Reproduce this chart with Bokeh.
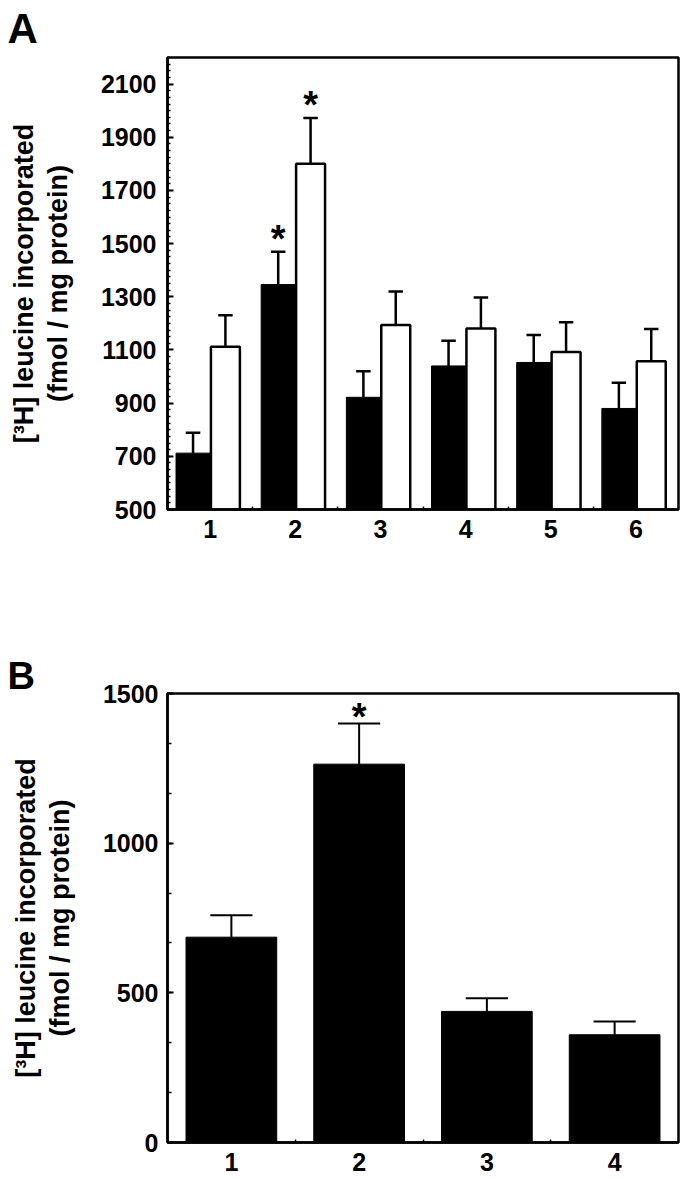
from bokeh.plotting import figure
from bokeh.layouts import column
from bokeh.models import FixedTicker, Range1d, Title
from bokeh.embed import file_html
from bokeh.resources import INLINE
from bokeh.core.properties import value

# ---------------- data ----------------
# Panel A
groups_a = [1, 2, 3, 4, 5, 6]
black_a = [712, 1346, 922, 1040, 1053, 880]
black_err_a = [77, 123, 98, 95, 103, 97]
white_a = [1112, 1800, 1194, 1181, 1092, 1058]
white_err_a = [119, 172, 126, 116, 112, 121]
sig_black_a = [2]
sig_white_a = [2]
yticks_a = [500, 700, 900, 1100, 1300, 1500, 1700, 1900, 2100]
ylim_a = (500, 2200)

# Panel B
groups_b = [1, 2, 3, 4]
vals_b = [686, 1264, 438, 360]
err_b = [73, 136, 44, 44]
sig_b = [2]
yticks_b = [0, 500, 1000, 1500]
ylim_b = (0, 1500)

ylabel_1 = "[\u00b3H] leucine incorporated"
ylabel_2 = "(fmol / mg protein)"
panel_letters = ["A", "B"]

FONT = "Liberation Sans"
W = 689
BL, BR = 167, 11  # left / right borders
HAS_STANDOFF = "standoff" in Title.properties()


def style(p, yticks, minor_y, xticks, minor_x, tick_size):
    p.xgrid.visible = False
    p.ygrid.visible = False
    p.outline_line_color = "black"
    p.outline_line_width = 2.5
    p.outline_line_alpha = 1
    p.background_fill_color = "white"
    p.border_fill_color = "white"
    for ax in (p.xaxis[0], p.yaxis[0]):
        ax.axis_line_width = 2.5
        ax.axis_line_color = "black"
        ax.major_tick_line_width = 2
        ax.minor_tick_line_width = 1.5
        ax.major_tick_out = 0
        ax.minor_tick_out = 0
        ax.major_label_text_font = FONT
        ax.major_label_text_font_style = "bold"
        ax.major_label_text_font_size = tick_size
        ax.major_label_text_color = "black"
    p.yaxis[0].ticker = FixedTicker(ticks=yticks, minor_ticks=minor_y)
    p.yaxis[0].major_tick_in = 6
    p.yaxis[0].minor_tick_in = 3
    p.yaxis[0].major_label_standoff = 11
    p.xaxis[0].ticker = FixedTicker(ticks=xticks, minor_ticks=minor_x)
    p.xaxis[0].major_tick_in = 0
    p.xaxis[0].minor_tick_in = 3
    p.xaxis[0].major_label_standoff = 10
    # second line of the y label as the axis label
    p.yaxis[0].axis_label = ylabel_2
    p.yaxis[0].axis_label_text_font = FONT
    p.yaxis[0].axis_label_text_font_style = "bold"
    p.yaxis[0].axis_label_text_font_size = "27px"
    p.yaxis[0].axis_label_text_color = "black"
    p.yaxis[0].axis_label_standoff = 25
    # first line of the y label as an outer title
    t = Title(text=ylabel_1, align="center", text_font=FONT, text_font_style="bold",
              text_font_size="27px", text_color="black")
    if HAS_STANDOFF:
        t.standoff = 1
    p.add_layout(t, "left")


def letter(p, txt, size, standoff, offset, valign):
    t = Title(text=txt, align="left", offset=offset, text_font=FONT, text_font_style="bold",
              text_font_size=size, text_color="black", vertical_align=valign)
    if HAS_STANDOFF:
        t.standoff = standoff
    p.add_layout(t, "above")


# ---------------- Panel A ----------------
pa = figure(width=W, height=57 + 452 + 100, x_range=Range1d(0.5, 6.5), y_range=Range1d(*ylim_a),
            output_backend="svg", toolbar_location=None,
            min_border_left=BL, min_border_right=BR, min_border_top=57, min_border_bottom=100)
minor_a = list(range(ylim_a[0], ylim_a[1] + 1, 25))
style(pa, yticks_a, minor_a, groups_a, [g + 0.5 for g in groups_a[:-1]], "25px")
letter(pa, panel_letters[0], "42px", 7, -160, "top")

xb = [g - 0.2 for g in groups_a]
xw = [g + 0.18 for g in groups_a]
pa.vbar(x=xb, top=black_a, bottom=ylim_a[0], width=0.4, fill_color="black", line_color="black", line_width=1)
pa.vbar(x=xw, top=white_a, bottom=ylim_a[0], width=0.34, fill_color="white", line_color="black", line_width=2.5)

for xs, vs, es in ((xb, black_a, black_err_a), (xw, white_a, white_err_a)):
    ups = [v + e for v, e in zip(vs, es)]
    pa.segment(x0=xs, y0=vs, x1=xs, y1=ups, line_color="black", line_width=2.5)
    pa.segment(x0=[x - 0.085 for x in xs], y0=ups, x1=[x + 0.085 for x in xs], y1=ups,
               line_color="black", line_width=2.5)

sx, sy = [], []
for g in sig_black_a:
    i = groups_a.index(g)
    sx.append(xb[i]); sy.append(black_a[i] + black_err_a[i])
for g in sig_white_a:
    i = groups_a.index(g)
    sx.append(xw[i]); sy.append(white_a[i] + white_err_a[i])
pa.text(x=sx, y=sy, text=["*"] * len(sx), text_font=value(FONT), text_font_style="bold",
        text_font_size="38px", text_align="center", text_baseline="alphabetic", y_offset=-13,
        text_color="black")

# ---------------- Panel B ----------------
pb = figure(width=W, height=84 + 449 + 39, x_range=Range1d(0.5, 4.5), y_range=Range1d(*ylim_b),
            output_backend="svg", toolbar_location=None,
            min_border_left=BL, min_border_right=BR, min_border_top=84, min_border_bottom=39)
minor_b = [ylim_b[1] * k / 9 for k in range(10)]
style(pb, yticks_b, minor_b, groups_b, [g + 0.5 for g in groups_b[:-1]], "25px")
pb.yaxis[0].minor_tick_in = 4
pb.yaxis[0].major_label_standoff = 9
letter(pb, panel_letters[1], "38px", -7, -160, "bottom")

pb.vbar(x=groups_b, top=vals_b, bottom=ylim_b[0], width=0.71, fill_color="black", line_color="black")
ups_b = [v + e for v, e in zip(vals_b, err_b)]
pb.segment(x0=groups_b, y0=vals_b, x1=groups_b, y1=ups_b, line_color="black", line_width=2)
pb.segment(x0=[g - 0.165 for g in groups_b], y0=ups_b, x1=[g + 0.165 for g in groups_b], y1=ups_b,
           line_color="black", line_width=2)
bx = [g for g in sig_b]
by = [ups_b[groups_b.index(g)] for g in sig_b]
pb.text(x=bx, y=by, text=["*"] * len(bx), text_font=value(FONT), text_font_style="bold",
        text_font_size="38px", text_align="center", text_baseline="alphabetic", y_offset=-6,
        text_color="black")

layout = column(pa, pb, spacing=0)
open("out.html", "w").write(file_html(layout, INLINE))
